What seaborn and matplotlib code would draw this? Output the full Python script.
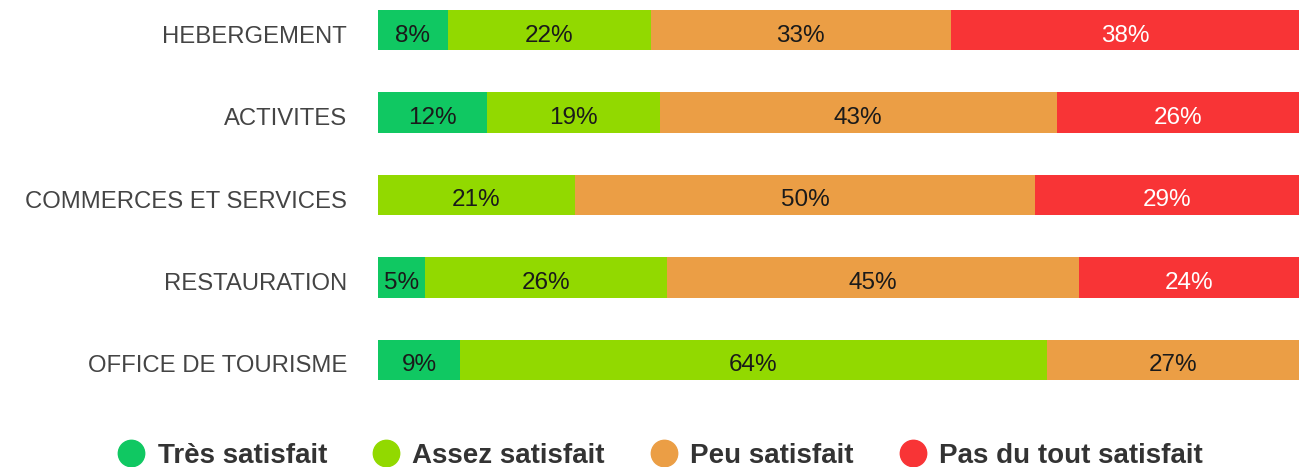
import numpy as np
import pandas as pd
import matplotlib
matplotlib.use("Agg")
import matplotlib.pyplot as plt
import matplotlib.transforms as mtransforms
from matplotlib.lines import Line2D
import seaborn as sns

categories = ["HEBERGEMENT", "ACTIVITES", "COMMERCES ET SERVICES", "RESTAURATION", "OFFICE DE TOURISME"]
series_names = ["Très satisfait", "Assez satisfait", "Peu satisfait", "Pas du tout satisfait"]
tres = [7.6, 11.8, 0.0, 5.1, 8.9]
assez = [22.0, 18.8, 21.4, 26.3, 63.7]
peu = [32.6, 43.1, 49.9, 44.7, 27.4]
pas = [37.8, 26.3, 28.7, 23.9, 0.0]
colors = ["#10c862", "#92d900", "#eb9e45", "#f83436"]
text_colors = ["#1a1a1a", "#1a1a1a", "#1a1a1a", "#ffffff"]

sns.set_theme(style="white")
plt.rcParams["font.family"] = ["Liberation Sans", "DejaVu Sans"]

series = [tres, assez, peu, pas]
vals = np.array(series)
cum = np.cumsum(vals, axis=0)

fig = plt.figure(figsize=(12.99, 4.67), dpi=100)
ax = fig.add_axes([378 / 1299, (467 - 380.6) / 467, 921 / 1299, 371.2 / 467])

# draw from the full stack back to the first segment
for i in range(len(series) - 1, -1, -1):
    df = pd.DataFrame({"cat": categories, "val": cum[i]})
    sns.barplot(data=df, x="val", y="cat", orient="h", color=colors[i],
                width=0.49, saturation=1, ax=ax, errorbar=None, linewidth=0)

data_off = mtransforms.offset_copy(ax.transData, fig=fig, y=-3, units="dots")
for i in range(len(series)):
    for j, cat in enumerate(categories):
        v = vals[i, j]
        if v <= 0:
            continue
        start = cum[i, j] - v
        ax.text(start + v / 2, j, f"{round(v):.0f}%", ha="center", va="center_baseline",
                fontsize=17.5, color=text_colors[i], transform=data_off)

ax.set_xlim(0, cum[-1].max())
ax.set_ylim(4.25, -0.25)
ax.set_xlabel("")
ax.set_ylabel("")
ax.set_xticks([])
for s in ax.spines.values():
    s.set_visible(False)
ax.set_yticks(range(len(categories)))
ax.set_yticklabels([])
ax.tick_params(axis="y", length=0)
lab_tr = mtransforms.offset_copy(ax.get_yaxis_transform(), fig=fig, x=-31, y=-4, units="dots")
for j, cat in enumerate(categories):
    ax.text(0, j, cat, ha="right", va="center_baseline", fontsize=17.2,
            color="#444444", transform=lab_tr)

handles = [Line2D([0], [0], marker="o", linestyle="none", markersize=19,
                  markerfacecolor=c, markeredgecolor=c) for c in colors]
leg = fig.legend(handles, series_names, loc="center", bbox_to_anchor=(0.505, 1 - 456 / 467),
                 ncol=4, frameon=False, handletextpad=0.15, handlelength=1.6,
                 columnspacing=1.32, prop={"size": 20, "weight": "bold"})
for t in leg.get_texts():
    t.set_color("#333333")

fig.savefig("out.png", dpi=100)
